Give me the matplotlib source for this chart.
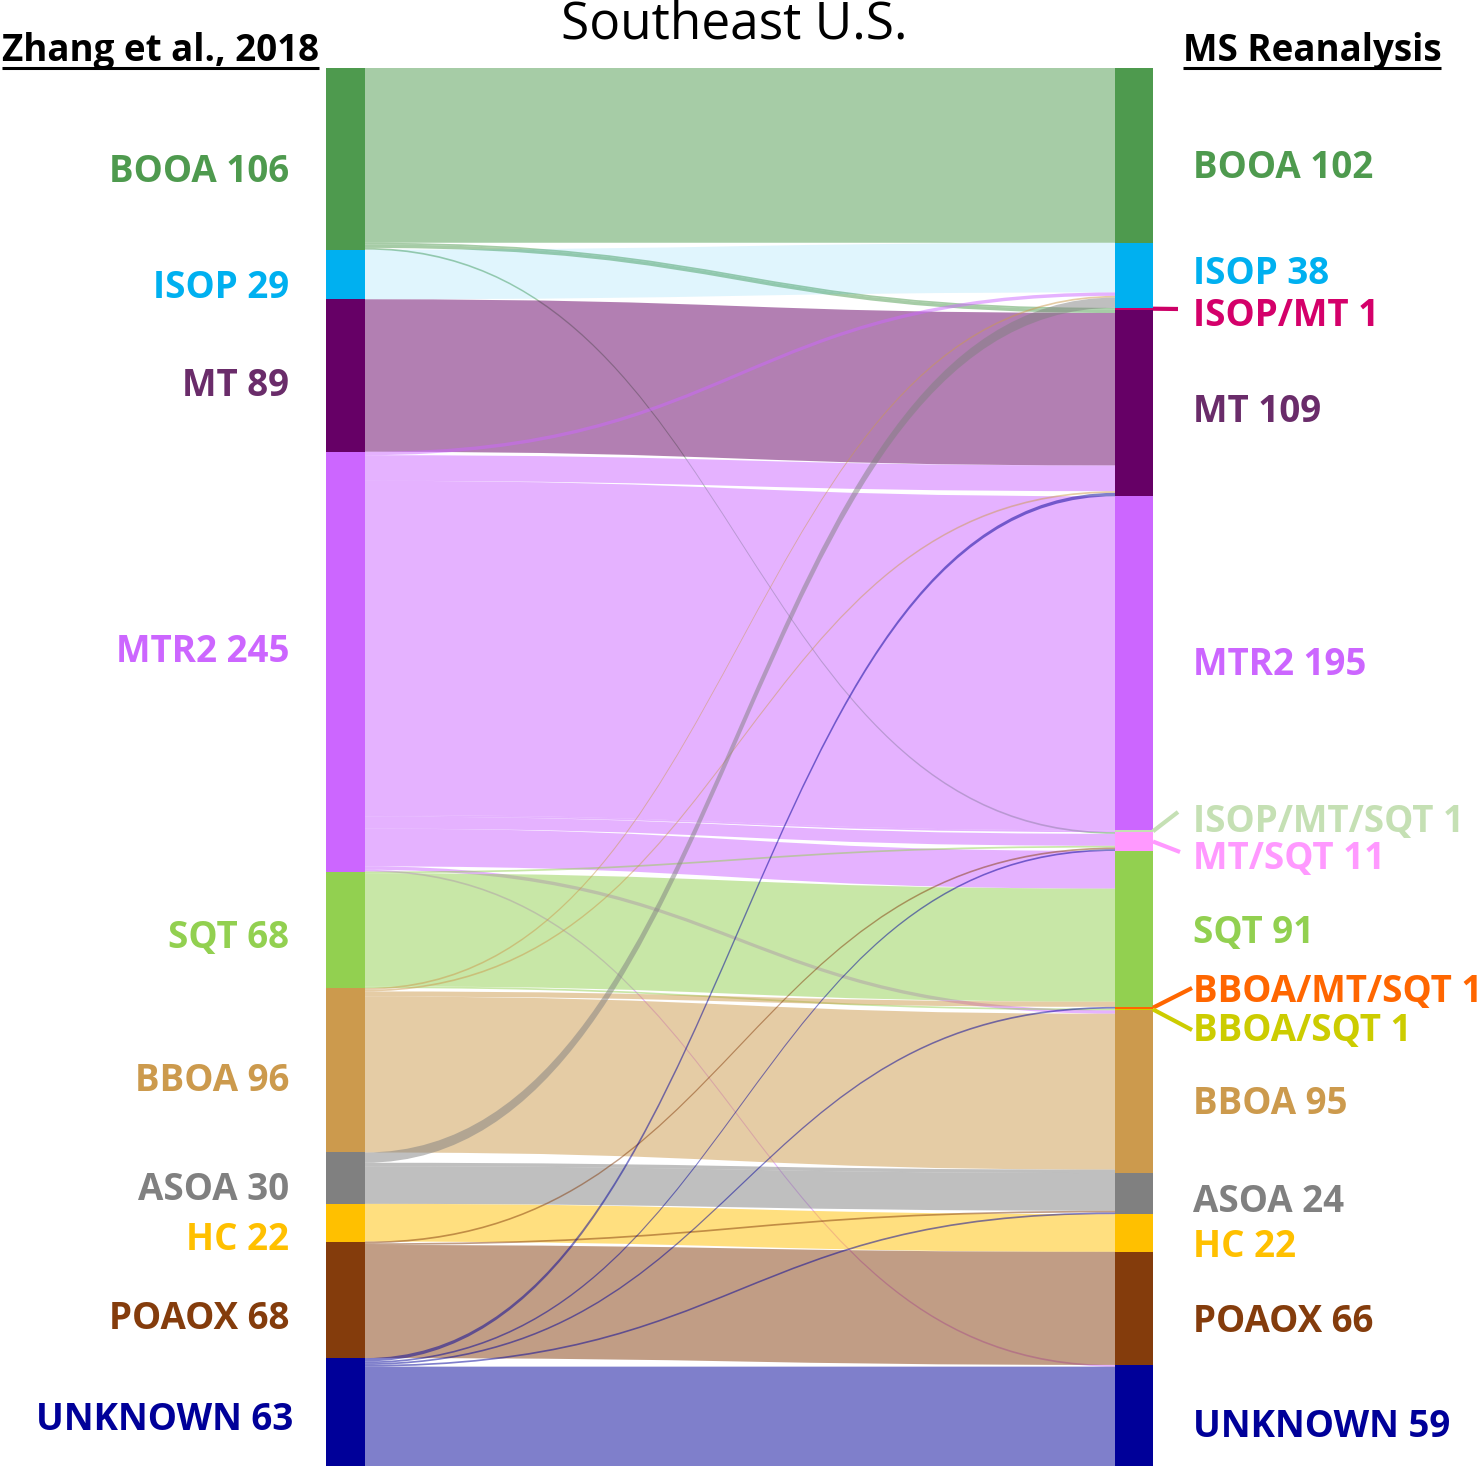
import matplotlib
matplotlib.use('Agg')
import matplotlib.pyplot as plt
from matplotlib.path import Path
from matplotlib.patches import PathPatch, Rectangle
from matplotlib.colors import to_rgba

# ---------------- data ----------------
left_names = ['BOOA', 'ISOP', 'MT', 'MTR2', 'SQT', 'BBOA', 'ASOA', 'HC', 'POAOX', 'UNKNOWN']
left_values = [106, 29, 89, 245, 68, 96, 30, 22, 68, 63]
left_colors = ['#4E9A4E', '#00B0F0', '#660066', '#CC66FF', '#92D050', '#CC9A4D',
               '#808080', '#FFC000', '#843C0C', '#000099']

right_names = ['BOOA', 'ISOP', 'ISOP/MT', 'MT', 'MTR2', 'ISOP/MT/SQT', 'MT/SQT', 'SQT',
               'BBOA/MT/SQT', 'BBOA/SQT', 'BBOA', 'ASOA', 'HC', 'POAOX', 'UNKNOWN']
right_values = [102, 38, 1, 109, 195, 1, 11, 91, 1, 1, 95, 24, 22, 66, 59]
right_colors = ['#4E9A4E', '#00B0F0', '#CC0066', '#660066', '#CC66FF', '#C5E0B4', '#FF99FF',
                '#92D050', '#FF6600', '#CCCC00', '#CC9A4D', '#808080', '#FFC000', '#843C0C', '#000099']

link_source = ['BOOA', 'BOOA', 'BOOA', 'BOOA',
               'ISOP',
               'MT',
               'MTR2', 'MTR2', 'MTR2', 'MTR2', 'MTR2', 'MTR2', 'MTR2', 'MTR2',
               'SQT', 'SQT', 'SQT',
               'BBOA', 'BBOA', 'BBOA', 'BBOA',
               'ASOA', 'ASOA', 'ASOA',
               'HC',
               'POAOX', 'POAOX', 'POAOX',
               'UNKNOWN', 'UNKNOWN', 'UNKNOWN', 'UNKNOWN', 'UNKNOWN']
link_target = ['BOOA', 'ISOP/MT', 'MT', 'MT/SQT',
               'ISOP',
               'MT',
               'ISOP', 'MT', 'MTR2', 'ISOP/MT/SQT', 'MT/SQT', 'SQT', 'BBOA', 'UNKNOWN',
               'MT/SQT', 'SQT', 'BBOA/SQT',
               'ISOP', 'MT', 'SQT', 'BBOA',
               'ISOP', 'BBOA', 'ASOA',
               'HC',
               'MT/SQT', 'ASOA', 'POAOX',
               'MT', 'MT/SQT', 'BBOA/MT/SQT', 'ASOA', 'UNKNOWN']
link_value = [102, 1, 2, 1,
              29,
              89,
              2, 15, 195, 1, 7, 22, 2, 1,
              1, 66, 1,
              1, 1, 3, 91,
              6, 2, 22,
              22,
              1, 1, 66,
              2, 1, 1, 1, 58]

left_title = 'Zhang et al., 2018'
right_title = 'MS Reanalysis'
main_title = 'Southeast U.S.'

# ---------------- layout ----------------
W, H = 1484, 1469
fig = plt.figure(figsize=(W / 100, H / 100), dpi=100)
ax = fig.add_axes([0, 0, 1, 1])
ax.set_xlim(0, W)
ax.set_ylim(H, 0)
ax.axis('off')

top = 68.0
total = sum(left_values)
scale = 1398.0 / total

xl0, xl1 = 326, 365
xr0, xr1 = 1115, 1153

def stack(values):
    pos = []
    y = top
    for v in values:
        pos.append((y, y + v * scale))
        y += v * scale
    return pos

lpos = stack(left_values)
rpos = stack(right_values)

# link placement: at source, order by target index; at target, order by source index
li = {n: i for i, n in enumerate(left_names)}
ri = {n: i for i, n in enumerate(right_names)}
links = list(zip(link_source, link_target, link_value))

src_off = {}
cur = {n: lpos[i][0] for n, i in li.items()}
for k in sorted(range(len(links)), key=lambda k: (li[links[k][0]], ri[links[k][1]])):
    s, t, v = links[k]
    src_off[k] = (cur[s], cur[s] + v * scale)
    cur[s] += v * scale

tgt_off = {}
cur = {n: rpos[i][0] for n, i in ri.items()}
for k in sorted(range(len(links)), key=lambda k: (ri[links[k][1]], li[links[k][0]])):
    s, t, v = links[k]
    tgt_off[k] = (cur[t], cur[t] + v * scale)
    cur[t] += v * scale

xm = (xl1 + xr0) / 2
for k, (s, t, v) in enumerate(links):
    (a0, a1), (b0, b1) = src_off[k], tgt_off[k]
    verts = [(xl1, a0), (xm, a0), (xm, b0), (xr0, b0),
             (xr0, b1),
             (xm, b1), (xm, a1), (xl1, a1),
             (xl1, a0)]
    codes = [Path.MOVETO, Path.CURVE4, Path.CURVE4, Path.CURVE4,
             Path.LINETO,
             Path.CURVE4, Path.CURVE4, Path.CURVE4,
             Path.CLOSEPOLY]
    alpha = 0.12 if s == 'ISOP' else 0.5
    col = to_rgba(left_colors[li[s]], alpha)
    ax.add_patch(PathPatch(Path(verts, codes), facecolor=col, edgecolor='none', lw=0))

for (y0, y1), c in zip(lpos, left_colors):
    ax.add_patch(Rectangle((xl0, y0), xl1 - xl0, y1 - y0, facecolor=c, edgecolor='none'))
for (y0, y1), c in zip(rpos, right_colors):
    ax.add_patch(Rectangle((xr0, y0), xr1 - xr0, y1 - y0, facecolor=c, edgecolor='none'))

FONT = 'Open Sans'
fs = 26.5

# left labels
left_label_y = [172, 288, 386, 652, 938, 1081, 1190, 1240, 1319, 1420]
left_label_colors = ['#4E9A4E', '#00B0F0', '#6A2C6A', '#CC66FF', '#92D050', '#CC9A4D',
                     '#808080', '#FFC000', '#843C0C', '#000099']
for n, v, y, c in zip(left_names, left_values, left_label_y, left_label_colors):
    xx = 293 if n == 'UNKNOWN' else 289
    ax.text(xx, y, f'{n} {v}', ha='right', va='center', fontsize=fs,
            fontweight='bold', color=c, family=FONT)

# right labels
right_label_y = [168, 274, 316, 412, 665, 822, 859, 933, 992, 1031, 1104, 1202, 1247, 1322, 1427]
right_label_colors = ['#4E9A4E', '#00B0F0', '#D4006A', '#6A2C6A', '#CC66FF', '#C5E0B4', '#FF99FF',
                      '#92D050', '#FF6600', '#CCCC00', '#CC9A4D', '#808080', '#FFC000', '#843C0C', '#000099']
for n, v, y, c in zip(right_names, right_values, right_label_y, right_label_colors):
    ax.text(1193, y, f'{n} {v}', ha='left', va='center', fontsize=fs,
            fontweight='bold', color=c, family=FONT)

# leader lines for the tiny right nodes
leaders = {'ISOP/MT': (1178, 309), 'ISOP/MT/SQT': (1178, 812), 'MT/SQT': (1180, 852),
           'BBOA/MT/SQT': (1192, 988), 'BBOA/SQT': (1192, 1030)}
for n, (x2, y2) in leaders.items():
    i = ri[n]
    ym = (rpos[i][0] + rpos[i][1]) / 2
    ax.plot([xr1, x2], [ym, y2], color=right_colors[i],
            lw=3, solid_capstyle='butt')

# titles
ax.text(734, 38, main_title, ha='center', va='baseline', fontsize=37, color='black', family=FONT)
t1 = ax.text(160, 51, left_title, ha='center', va='center', fontsize=26.5,
             fontweight='bold', color='black', family=FONT)
t2 = ax.text(1312, 51, right_title, ha='center', va='center', fontsize=26.5,
             fontweight='bold', color='black', family=FONT)

fig.canvas.draw()
inv = ax.transData.inverted()
for t in (t1, t2):
    bb = t.get_window_extent()
    (xa, ya), (xb, yb) = inv.transform([(bb.x0, bb.y0), (bb.x1, bb.y1)])
    ax.plot([xa, xb], [68, 68], color='black', lw=2.2, solid_capstyle='butt')

fig.savefig('out.png', dpi=100)
